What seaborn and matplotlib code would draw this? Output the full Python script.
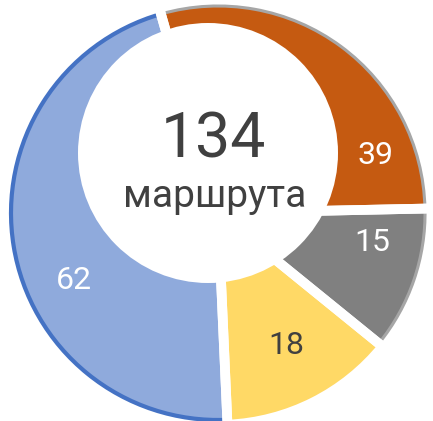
import numpy as np
import matplotlib
matplotlib.use("Agg")
import matplotlib.pyplot as plt
import seaborn as sns
from matplotlib.patches import Circle, Arc

# ---- data ----
values = [39, 15, 18, 62]
value_labels = [str(v) for v in values]
total_value = sum(values)          # 134
center_caption = "маршрута"

# ---- styles ----
colors = sns.color_palette(["#C55A11", "#808080", "#FFD966", "#8FAADC"])
label_colors = ["white", "white", "#404040", "white"]
label_frac = [0.82, 0.30, 0.49, 0.405]   # position along each wedge (from its start)
label_rad = [0.81, 0.76, 0.72, 0.77]     # radial position (fraction of radius)
explode = [0.0, 0.05, 0.0, 0.0]

sns.set_theme(style="white")
plt.rcParams['font.family'] = ['Roboto', 'DejaVu Sans']

fig = plt.figure(figsize=(4.33, 4.21), dpi=100)
ax = fig.add_axes([0, 0, 1, 1])

R = 207
cx, cy = 218, 208
wedges, _ = ax.pie(values, colors=colors, startangle=106, counterclock=False,
                   radius=R, center=(cx, cy), explode=explode,
                   wedgeprops=dict(linewidth=0))

# blue outline on the large wedge
wedges[3].set_edgecolor("#4472C4")
wedges[3].set_linewidth(3)

# light grey outer rim on orange and grey wedges
for w in wedges[:2]:
    ax.add_patch(Arc(w.center, 2 * w.r, 2 * w.r, theta1=w.theta1, theta2=w.theta2,
                     color="#A6A6A6", lw=2.2, zorder=2))

# white separators
for w in wedges:
    for th in (w.theta1, w.theta2):
        t = np.deg2rad(th)
        x0, y0 = w.center
        ax.plot([x0, x0 + (w.r + 8) * np.cos(t)], [y0, y0 + (w.r + 8) * np.sin(t)],
                color="white", lw=7, solid_capstyle="butt", zorder=2.5)

# off-centre white hole
ax.add_patch(Circle((208, 268), 130, facecolor="white", edgecolor="none", zorder=3))

# value labels
for w, lab, c, f, rr in zip(wedges, value_labels, label_colors, label_frac, label_rad):
    ang = np.deg2rad(w.theta2 - f * (w.theta2 - w.theta1))
    x0, y0 = w.center
    ax.text(x0 + rr * w.r * np.cos(ang), y0 + rr * w.r * np.sin(ang), lab,
            ha="center", va="center", fontsize=23, color=c, zorder=4)

ax.text(213, 263, f"{total_value}", ha="center", va="baseline", fontsize=45,
        color="#404040", zorder=4)
ax.text(215, 214, center_caption, ha="center", va="baseline", fontsize=28,
        color="#404040", zorder=4)

ax.set_xlim(0, 433)
ax.set_ylim(0, 421)
ax.set_aspect("equal")
ax.axis("off")
fig.savefig("out.png", dpi=100, facecolor="white")
